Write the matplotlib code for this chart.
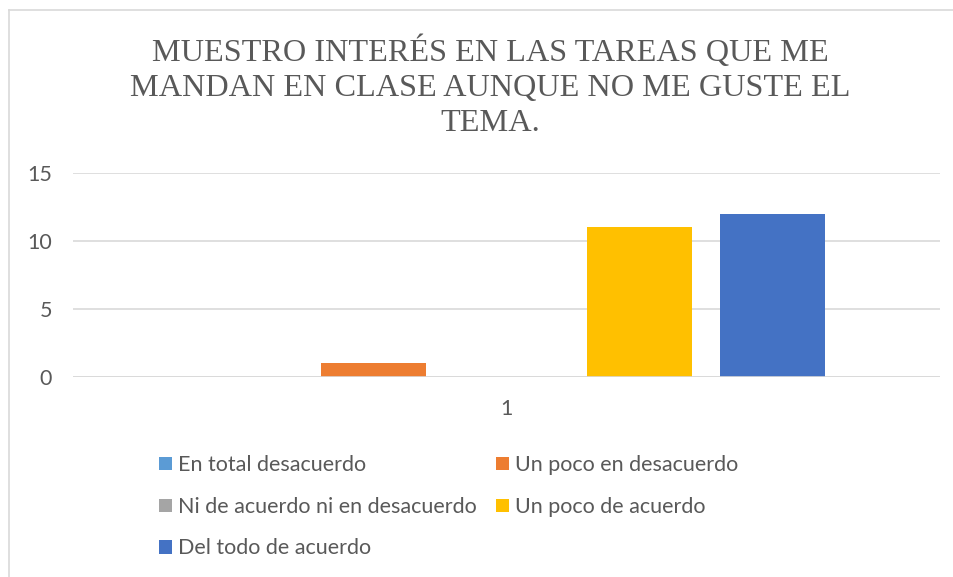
import matplotlib
matplotlib.use('Agg')
import matplotlib.pyplot as plt
from matplotlib.lines import Line2D

# chart data
categories = ["1"]
series_names = ["En total desacuerdo", "Un poco en desacuerdo",
                "Ni de acuerdo ni en desacuerdo", "Un poco de acuerdo",
                "Del todo de acuerdo"]
series_values = [0, 1, 0, 11, 12]
series_colors = ["#5B9BD5", "#ED7D31", "#A5A5A5", "#FFC000", "#4472C4"]
y_ticks = [0, 5, 10, 15]
title = "MUESTRO INTERÉS EN LAS TAREAS QUE ME\nMANDAN EN CLASE AUNQUE NO ME GUSTE EL\nTEMA."

W, H = 954, 577
fig = plt.figure(figsize=(W / 100, H / 100), dpi=100)
ax = fig.add_axes([73 / W, 1 - 377 / H, (940 - 73) / W, (377 - 173) / H])

sans = ["Lato", "DejaVu Sans"]
text_col = "#595959"
fs = 15.5

slot = 133 / 867
bar_w = 105 / 867
handles = []
for i, (name, val, col) in enumerate(zip(series_names, series_values, series_colors)):
    b = ax.bar(0 + (i - 2) * slot, val, width=bar_w, color=col, label=name, zorder=3)
    handles.append(b)

ax.set_xlim(-0.5, 0.5)
ax.set_ylim(0, 15)
ax.set_yticks(y_ticks)
ax.set_xticks([0])
ax.set_xticklabels(categories)
ax.grid(axis='y', color="#D9D9D9", linewidth=1.2, zorder=0)
for s in ax.spines.values():
    s.set_visible(False)
ax.tick_params(length=0, labelsize=fs, labelcolor=text_col, pad=15)
ax.tick_params(axis='x', pad=16)
for lbl in ax.get_xticklabels() + ax.get_yticklabels():
    lbl.set_family(sans)
# baseline
ax.axhline(0, color="#D9D9D9", linewidth=1.2, zorder=4)

fig.text(490 / W, 1 - 35 / H, title, ha='center', va='top', fontsize=23.2,
         family=["Liberation Serif"], color=text_col, linespacing=1.28)

# legend: Excel fills row-wise, matplotlib column-wise
order = [0, 2, 4, 1, 3]
leg = fig.legend([handles[k] for k in order], [series_names[k] for k in order],
                 ncol=2, loc='upper left', bbox_to_anchor=(140 / W, 1 - 436 / H),
                 frameon=False, handlelength=0.58, handleheight=0.58,
                 handletextpad=0.3, columnspacing=0.9, labelspacing=1.0,
                 prop={'family': sans, 'size': fs})
for t in leg.get_texts():
    t.set_color(text_col)

# chart border (top and left visible)
fig.add_artist(Line2D([9 / W, 9 / W], [0, 1 - 10 / H], transform=fig.transFigure,
                      color="#D9D9D9", linewidth=1.2))
fig.add_artist(Line2D([9 / W, 1], [1 - 10 / H, 1 - 10 / H], transform=fig.transFigure,
                      color="#D9D9D9", linewidth=1.2))

fig.savefig("out.png", dpi=100)
